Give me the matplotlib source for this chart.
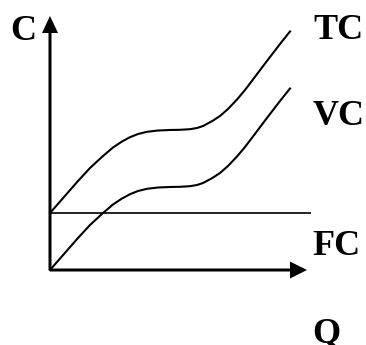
import matplotlib
matplotlib.use("Agg")
import matplotlib.pyplot as plt

# Data (arbitrary units)
q = [0, 14, 28, 40, 53, 63, 72, 80, 88, 97, 108, 120, 130, 140, 147, 153,
     162, 170, 178, 187, 195, 203, 212, 220, 230, 240]
vc = [0, 16, 32, 45, 57, 65.5, 71.5, 75.8, 79, 81.2, 82.5, 83, 83.2, 83.8, 85, 87,
      91.8, 97, 104, 113.5, 123, 133.5, 145.5, 156, 169, 181.5]
fc_value = 57
tc = [v + fc_value for v in vc]
labels = {"C": (-40, 230), "TC": (263, 231), "VC": (263, 145), "FC": (262, 15), "Q": (262, -72)}

fig = plt.figure(figsize=(3.66, 3.45), dpi=100)
ax = fig.add_axes([0, 0, 1, 1])
ax.set_xlim(-50, 316)
ax.set_ylim(-75, 270)
ax.axis("off")

# axes arrows
ax.arrow(0, 0, 0, 254, width=3, head_width=16, head_length=17,
         length_includes_head=True, color="black", lw=0)
ax.arrow(0, 0, 257, 0, width=3, head_width=17, head_length=17,
         length_includes_head=True, color="black", lw=0)

ax.plot([0, 261], [fc_value, fc_value], color="black", lw=1.2, solid_capstyle="butt")
ax.plot(q, vc, color="black", lw=1.5, solid_joinstyle="round")
ax.plot(q, tc, color="black", lw=1.5, solid_joinstyle="round")

for txt, (x, y) in labels.items():
    ax.text(x, y, txt, family="Liberation Serif", weight="bold", fontsize=26,
            ha="left", va="baseline", color="black")

fig.savefig("out.png", dpi=100)
